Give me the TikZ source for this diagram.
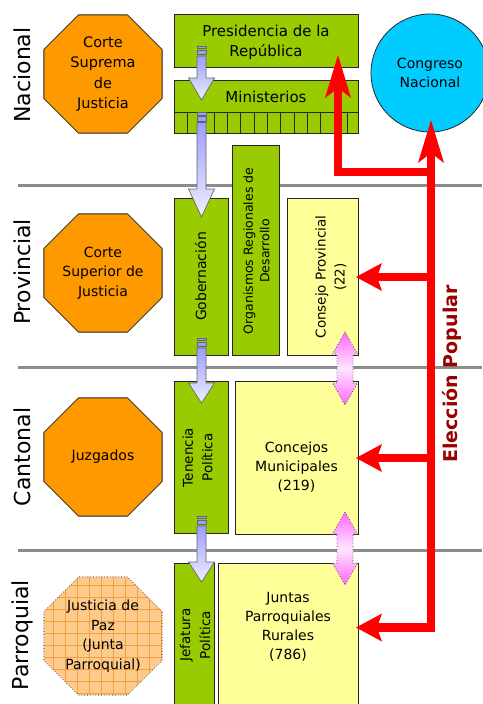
\documentclass[tikz,border=0pt]{standalone}
\usepackage{fontspec}
\setmainfont{DejaVu Sans}
\usetikzlibrary{shapes.geometric,arrows.meta}
\definecolor{grn}{HTML}{99CC00}
\definecolor{yel}{HTML}{FFFF99}
\definecolor{orng}{HTML}{FF9900}
\definecolor{cya}{HTML}{00CCFF}
\definecolor{sepgray}{HTML}{8C8C8C}
\definecolor{elec}{HTML}{990000}
\definecolor{lavtop}{HTML}{9C9CFF}
\definecolor{lavbot}{HTML}{F0F0FF}
\definecolor{pkend}{HTML}{FF66FF}
\definecolor{pkmid}{HTML}{FFE6FF}
\definecolor{peach}{HTML}{FCCB8C}
\definecolor{gridor}{HTML}{F5A040}
\newcommand{\bluedown}[4]{%
  \draw[blarrow] (#1-4.5,#2+10) -- (#1+4.5,#2+10) -- (#1+4.5,#3) -- (#1+13,#3) -- (#1,#4) -- (#1-13,#3) -- (#1-4.5,#3) -- cycle;
  \draw[bltail] (#1-4.5,#2) rectangle (#1+4.5,#2+2.5);
  \draw[bltail] (#1-4.5,#2+4) rectangle (#1+4.5,#2+8.5);
}
\newcommand{\pinkdouble}[3]{%
  \draw[pkarrow] (#1,#2) -- (#1+12.5,#2+22) -- (#1+8,#2+22) -- (#1+8,#3-22) -- (#1+12.5,#3-22) -- (#1,#3) -- (#1-12.5,#3-22) -- (#1-8,#3-22) -- (#1-8,#2+22) -- (#1-12.5,#2+22) -- cycle;
}
\begin{document}
\begin{tikzpicture}[x=1pt,y=-1pt,
  greenbox/.style={draw=black!85, line width=0.8pt, fill=grn, inner sep=0pt},
  yellowbox/.style={draw=black!85, line width=0.8pt, fill=yel, inner sep=0pt},
  octa/.style={regular polygon, regular polygon sides=8, minimum size=128pt, draw=black!85, line width=0.8pt, fill=orng, inner sep=0pt, align=center, font=\fontsize{14}{19.5}\selectfont},
  lbl/.style={font=\fontsize{14}{19}\selectfont, align=center, inner sep=0pt},
  rlbl/.style={lbl, rotate=90},
  level/.style={rotate=90, font=\fontsize{22}{26}\selectfont, inner sep=0pt},
  sepline/.style={draw=sepgray, line width=3.5pt},
  redline/.style={draw=red, line width=8.5pt, line join=miter},
  blarrow/.style={draw=black!60, line width=0.7pt, top color=lavtop, bottom color=lavbot},
  bltail/.style={draw=black!60, line width=0.7pt, fill=lavtop},
  pkarrow/.style={draw=black!70, line width=0.8pt, dotted, top color=pkend, bottom color=pkend, middle color=pkmid},
  bigtip/.tip={Stealth[length=43pt,width=26pt,inset=10pt,line width=0pt]},
  smalltip/.tip={Stealth[length=26pt,width=28pt,inset=5pt,line width=0pt]}
]
\useasboundingbox (0,0) rectangle (482,704);
% separators
\draw[sepline] (18,185.5) -- (482,185.5);
\draw[sepline] (18,367.5) -- (482,367.5);
\draw[sepline] (18,550.5) -- (482,550.5);
% level labels
\node[level] (lnac) at (22,75) {Nacional};
\node[level] (lprov) at (22,272) {Provincial};
\node[level] (lcant) at (22,457) {Cantonal};
\node[level] (lparr) at (22,635) {Parroquial};
% courts
\node[octa, font=\fontsize{14.5}{20.5}\selectfont] (cs) at (103,74) {Corte\\Suprema\\de\\Justicia};
\node[octa] (csj) at (103,273) {Corte\\Superior de\\Justicia};
\node[octa] (juz) at (103,457) {Juzgados};
\node[octa, fill=peach, draw=black!70, dotted,
  path picture={\draw[solid, gridor, line width=0.6pt, step=12pt] (path picture bounding box.south west) grid (path picture bounding box.north east);}] (jpaz) at (103,636) {Justicia de\\Paz\\(Junta\\Parroquial)};
% national
\node[greenbox, minimum width=184pt, minimum height=53pt] (pres) at (266,40.5) {};
\node[lbl, font=\fontsize{15}{19.5}\selectfont] (prest) at (266,42.5) {Presidencia de la\\República};
\node[greenbox, minimum width=184pt, minimum height=53pt] (minis) at (266,106.5) {};
\draw[black!85, line width=0.8pt] (174,112) -- (358,112);
\foreach \k in {1,...,13} \draw[black!85, line width=0.8pt] (174+13.33*\k,112) -- (174+13.33*\k,133);
\node[lbl, font=\fontsize{15}{19}\selectfont] (minist) at (266,97) {Ministerios};
\node[circle, draw=black!85, line width=0.8pt, fill=cya, minimum size=118pt, inner sep=0pt, align=center, font=\fontsize{14}{19}\selectfont] (cn) at (430,73) {Congreso\\Nacional};
% provincial
\node[greenbox, minimum width=54pt, minimum height=157pt] (gob) at (201,276.5) {};
\node[rlbl] (gobt) at (200.5,276.5) {Gobernación};
\node[greenbox, minimum width=47pt, minimum height=210pt] (org) at (255.5,250) {};
\node[rlbl, font=\fontsize{12.5}{16.5}\selectfont] (orgt) at (256.5,251) {Organismos Regionales de\\Desarrollo};
\node[yellowbox, minimum width=71pt, minimum height=157pt] (cp) at (322.5,276.5) {};
\node[rlbl, font=\fontsize{13.5}{19}\selectfont] (cpt) at (331,277) {Consejo Provincial\\(22)};
% cantonal
\node[greenbox, minimum width=54pt, minimum height=152pt] (tp) at (201,457) {};
\node[rlbl, font=\fontsize{13.5}{19.5}\selectfont] (tpt) at (197.5,457.5) {Tenencia\\Política};
\node[yellowbox, minimum width=123pt, minimum height=153pt] (cm) at (296.5,457.5) {};
\node[lbl] (cmt) at (296.5,467) {Concejos\\Municipales\\(219)};
% parroquial
\node[greenbox, minimum width=40pt, minimum height=149pt] (jp) at (194,637.5) {};
\node[rlbl, font=\fontsize{13.5}{20}\selectfont] (jpt) at (195,635) {Jefatura\\Política};
\node[yellowbox, minimum width=140pt, minimum height=149pt] (jpr) at (288,637.5) {};
\node[lbl] (jprt) at (288,627) {Juntas\\Parroquiales\\Rurales\\(786)};
% hierarchy arrows
\bluedown{201.5}{46}{78}{100}
\bluedown{201.5}{112.5}{189}{217}
\bluedown{201.5}{338}{383}{403}
\bluedown{201.5}{516}{562}{582}
% coordination arrows
\pinkdouble{345}{332}{405}
\pinkdouble{345}{512}{585}
% popular election
\coordinate (rtop) at (431,120);
\coordinate (rbot) at (431,627.5);
\coordinate (rjpr) at (356,627.5);
\coordinate (rj1) at (431,172);
\coordinate (rpres) at (338,55);
\coordinate (rj2) at (431,277);
\coordinate (rcp) at (356,277);
\coordinate (rj3) at (431,458);
\coordinate (rcm) at (356,458);
\draw[redline, arrows={bigtip-smalltip}] (rtop) -- (rbot) -- (rjpr);
\draw[redline, -bigtip] (rj1) -| (rpres);
\draw[redline, -smalltip] (rj2) -- (rcp);
\draw[redline, -smalltip] (rj3) -- (rcm);
\node[rotate=90, inner sep=0pt, text=elec, font=\bfseries\fontsize{19}{22}\selectfont] (ep) at (452,374) {Elección Popular};
\end{tikzpicture}
\end{document}
